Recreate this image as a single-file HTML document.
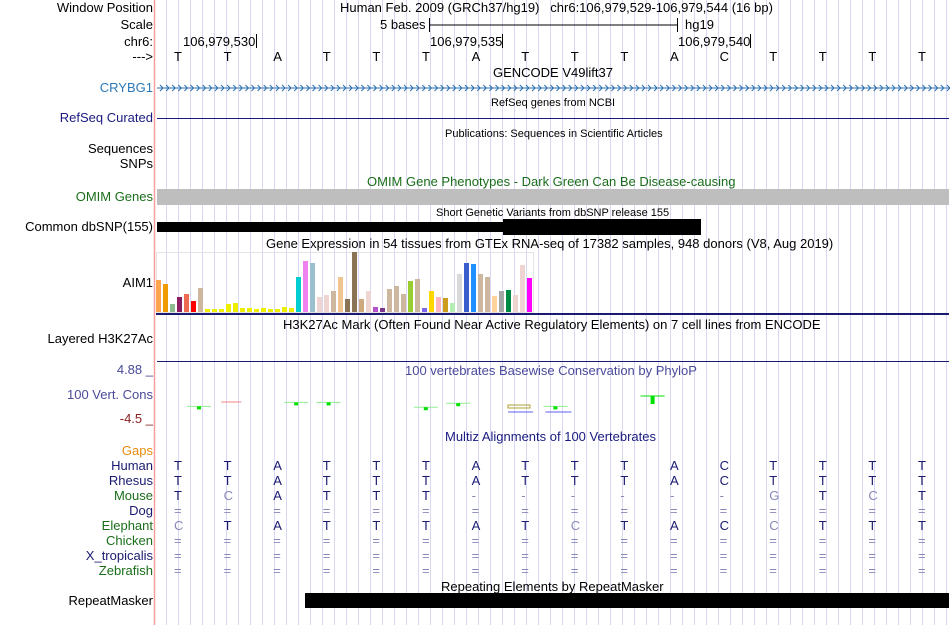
<!DOCTYPE html>
<html><head><meta charset="utf-8">
<style>
body{margin:0;background:#fff;}
#root{position:relative;width:950px;height:625px;overflow:hidden;font-family:"Liberation Sans",sans-serif;font-size:13px;color:#000;}
.t{position:absolute;white-space:nowrap;line-height:14px;}
.lab{position:absolute;right:797px;white-space:nowrap;line-height:14px;text-align:right;}
.sm{font-size:11px;}
</style></head><body>
<div id="root">
<svg id="svg" width="950" height="625" style="position:absolute;left:0;top:0"></svg>

<div class="lab" style="top:1px">Window Position</div>
<div class="lab" style="top:18px">Scale</div>
<div class="lab" style="top:35px">chr6:</div>
<div class="lab" style="top:50px">---&gt;</div>
<div class="lab" style="top:81px;color:#2b78b8">CRYBG1</div>
<div class="lab" style="top:111px;color:#1a1a80">RefSeq Curated</div>
<div class="lab" style="top:142px">Sequences</div>
<div class="lab" style="top:157px">SNPs</div>
<div class="lab" style="top:190px;color:#1a6e1a">OMIM Genes</div>
<div class="lab" style="top:220px">Common dbSNP(155)</div>
<div class="lab" style="top:276px">AIM1</div>
<div class="lab" style="top:332px">Layered H3K27Ac</div>
<div class="lab" style="top:363px;color:#4a4a9a">4.88 _</div>
<div class="lab" style="top:388px;color:#4a4a9a">100 Vert. Cons</div>
<div class="lab" style="top:412px;color:#8b2020">-4.5 _</div>
<div class="lab" style="top:444px;color:#e88a10">Gaps</div>
<div class="lab" style="top:594px">RepeatMasker</div>

<div class="t" style="left:340px;top:1px">Human Feb. 2009 (GRCh37/hg19)&nbsp;&nbsp;&nbsp;chr6:106,979,529-106,979,544 (16 bp)</div>
<div class="t" style="left:380px;top:18px">5 bases</div>
<div class="t" style="left:685px;top:18px">hg19</div>
<div class="t" style="left:183px;top:35px">106,979,530</div>
<div class="t" style="left:430px;top:35px">106,979,535</div>
<div class="t" style="left:678px;top:35px">106,979,540</div>
<div class="t" style="left:493px;top:66px">GENCODE V49lift37</div>
<div class="t sm" style="left:491px;top:96px">RefSeq genes from NCBI</div>
<div class="t sm" style="left:445px;top:127px">Publications: Sequences in Scientific Articles</div>
<div class="t" style="left:367px;top:175px;color:#1a6e1a">OMIM Gene Phenotypes - Dark Green Can Be Disease-causing</div>
<div class="t sm" style="left:436px;top:206px">Short Genetic Variants from dbSNP release 155</div>
<div class="t" style="left:266px;top:237px">Gene Expression in 54 tissues from GTEx RNA-seq of 17382 samples, 948 donors (V8, Aug 2019)</div>
<div class="t" style="left:283px;top:318px">H3K27Ac Mark (Often Found Near Active Regulatory Elements) on 7 cell lines from ENCODE</div>
<div class="t" style="left:405px;top:364px;color:#4a4a9a">100 vertebrates Basewise Conservation by PhyloP</div>
<div class="t" style="left:445px;top:430px;color:#1a1a80">Multiz Alignments of 100 Vertebrates</div>
<div class="t" style="left:441px;top:580px">Repeating Elements by RepeatMasker</div>
<div id="txt"></div>
</div>
<script>
const gtexValues=[32,28,8,15,18,11,24,3,3,3,8,9,4,4,3,4,3,3,5,4,35,51,49,15,17,21,35,13,60,13,21,5,4,23,26,18,31,33,4,21,15,14,9,38,49,48,38,35,16,21,22,17,47,34];
const gtexColors=["#FFA54F","#EE9A00","#8FBC8F","#8B1C62","#EE6A50","#FF0000","#CDB79E","#EEEE00","#EEEE00","#EEEE00","#EEEE00","#EEEE00","#EEEE00","#EEEE00","#EEEE00","#EEEE00","#EEEE00","#EEEE00","#EEEE00","#EEEE00","#00CED1","#EE82EE","#9AC0CD","#EED5D2","#EED5D2","#CDB79E","#EEC591","#8B7355","#8B7355","#CDAA7D","#EED5D2","#B452CD","#7A378B","#CDB79E","#CDB79E","#CDB79E","#9ACD32","#CDB79E","#7A67EE","#FFD700","#FFB6C1","#CD9B1D","#B4EEB4","#D9D9D9","#3A5FCD","#1E90FF","#CDB79E","#CDB79E","#FFD39B","#A6A6A6","#008B45","#EED5D2","#EED5D2","#FF00FF"];
const phyloSlots=[0,1,3,4,7,8,10,11,14];
const phyloValues=[-0.3,0.2,0.2,0.2,-0.4,0.1,-0.3,-0.3,1.0];
const speciesNames=["Human","Rhesus","Mouse","Dog","Elephant","Chicken","X_tropicalis","Zebrafish"];
const speciesColors=["#1a1a70","#1a1a70","#1a6e1a","#1a1a70","#1a6e1a","#1a6e1a","#1a1a70","#1a6e1a"];
const alignSeqs=["TTATTTATTTACTTTT","TTATTTATTTACTTTT","TCATTT------GTCT","================","CTATTTATCTACCTTT","================","================","================"];

const NS="http://www.w3.org/2000/svg";
const svg=document.getElementById('svg');
function mk(tag,attrs,name){const e=document.createElementNS(NS,tag);for(const k in attrs)e.setAttribute(k,attrs[k]);


svg.appendChild(e);return e;}
for(let x=166.5;x<950;x+=12){mk('line',{x1:x,x2:x,y1:0,y2:625,stroke:'#d8d8f4','stroke-width':1},'grid-line');}
mk('line',{x1:154.5,x2:154.5,y1:0,y2:625,stroke:'#f4a0a0','stroke-width':1.5},'left-border');
mk('line',{x1:429,x2:677,y1:25,y2:25,stroke:'#000'},'scale-bar');
mk('line',{x1:429.5,x2:429.5,y1:18,y2:32,stroke:'#000'},'scale-bar-left');
mk('line',{x1:677.5,x2:677.5,y1:18,y2:32,stroke:'#000'},'scale-bar-right');
[256,502,750].forEach(x=>mk('line',{x1:x+.5,x2:x+.5,y1:34,y2:48,stroke:'#000'},'coord-tick'));
const ref=alignSeqs[0];
const baseX=i=>178+49.6*i;
const txt=document.getElementById('txt');
for(let i=0;i<16;i++){const d=document.createElement('div');d.className='t';d.style.left=(baseX(i)-4)+'px';d.style.top='50px';d.textContent=ref[i];


txt.appendChild(d);}
mk('line',{x1:157,x2:949,y1:88,y2:88,stroke:'#2b6fb0','stroke-width':1},'crybg1-gene');
let p='';for(let x=160;x<948;x+=6.1){p+=`M${x},85 L${x+3},88 L${x},91 `;}
mk('path',{d:p,stroke:'#2b6fb0',fill:'none','stroke-width':1},'crybg1-strand-arrows');
mk('line',{x1:157,x2:949,y1:118.5,y2:118.5,stroke:'#1a1a80'},'refseq-line');
mk('rect',{x:157,y:189,width:792,height:16,fill:'#bebebe'},'omim-bar');
mk('rect',{x:157,y:222,width:346,height:10,fill:'#000'},'dbsnp-bar');
mk('rect',{x:503,y:219,width:198,height:16,fill:'#000'},'dbsnp-bar-thick');
mk('rect',{x:156.5,y:252.5,width:377,height:60,fill:'none',stroke:'#e4e4e4'},'gtex-box');
const gBase=312, gScale=1;
gtexValues.forEach((v,i)=>{mk('rect',{x:156+7*i,y:gBase-v*gScale,width:5,height:v*gScale,fill:gtexColors[i]},'gtex-bar');});
mk('rect',{x:156,y:313,width:793,height:2,fill:'#1a1a70'},'gtex-baseline');
mk('line',{x1:157,x2:949,y1:361.5,y2:361.5,stroke:'#1a1a70'},'h3k27ac-line');
const pZero=404, pScale=8, slotX=k=>199+32.4*k;
phyloSlots.forEach((s,i)=>{const v=phyloValues[i];const x=slotX(s);
 if(i===1){mk('line',{x1:x-10,x2:x+10,y1:pZero-2,y2:pZero-2,stroke:'#f08080'},'phylop-mark');return;}
 if(i===6){mk('rect',{x:x-15,y:pZero+1,width:22,height:3,fill:'none',stroke:'#b0a030'},'phylop-mark');mk('line',{x1:x-15,x2:x+10,y1:pZero+8,y2:pZero+8,stroke:'#6060f0'},'phylop-mark');return;}
 const y=pZero-v*pScale;
 mk('line',{x1:x-12,x2:x+12,y1:y,y2:y,stroke:v>0.5?'#00e000':'#90f090'},'phylop-mark');
 const h=Math.max(3,Math.abs(pZero-y));
 mk('rect',{x:x-2,y:y,width:4,height:v>0.5?h:3,fill:'#00e000'},'phylop-mark');
 if(i===7)mk('line',{x1:x-10,x2:x+16,y1:pZero+8,y2:pZero+8,stroke:'#6060f0'},'phylop-mark');
});
speciesNames.forEach((n,r)=>{const y=459+15*r;
 const l=document.createElement('div');l.className='lab';l.style.top=y+'px';l.style.color=speciesColors[r];l.textContent=n;
 
 
 txt.appendChild(l);
 for(let i=0;i<16;i++){const c=alignSeqs[r][i];const d=document.createElement('div');d.className='t';d.style.left=(baseX(i)-4)+'px';d.style.top=y+'px';
  const same=(c===ref[i]);d.style.color=same?'#1a1a70':'#8888b8';d.textContent=c;
  
  
  txt.appendChild(d);}
});
mk('rect',{x:305,y:593,width:644,height:15,fill:'#000'},'repeatmasker-bar');
</script>
</body></html>
